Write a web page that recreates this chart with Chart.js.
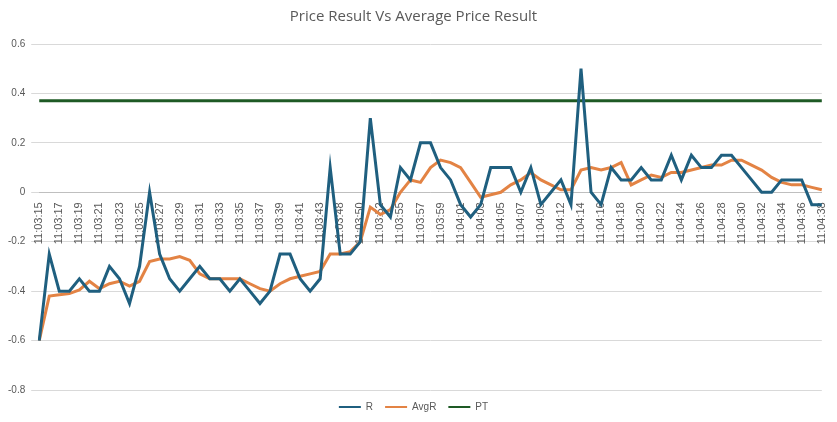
<!DOCTYPE html>
<html><head><meta charset="utf-8">
<script src="https://cdn.jsdelivr.net/npm/chart.js@4"></script>
<style>html,body{margin:0;padding:0;background:#fff}#w{width:837px;height:422px}</style>
</head><body><div id="w"><canvas id="c"></canvas></div>
<script>
const labels = ["11:03:15","11:03:16","11:03:17","11:03:18","11:03:19","11:03:20","11:03:21","11:03:22","11:03:23","11:03:24","11:03:25","11:03:26","11:03:27","11:03:28","11:03:29","11:03:30","11:03:31","11:03:32","11:03:33","11:03:34","11:03:35","11:03:36","11:03:37","11:03:38","11:03:39","11:03:40","11:03:41","11:03:42","11:03:43","11:03:46","11:03:48","11:03:49","11:03:50","11:03:51","11:03:52","11:03:54","11:03:55","11:03:56","11:03:57","11:03:58","11:03:59","11:04:00","11:04:01","11:04:02","11:04:03","11:04:04","11:04:05","11:04:06","11:04:07","11:04:08","11:04:09","11:04:11","11:04:12","11:04:13","11:04:14","11:04:15","11:04:16","11:04:17","11:04:18","11:04:19","11:04:20","11:04:21","11:04:22","11:04:23","11:04:24","11:04:25","11:04:26","11:04:27","11:04:28","11:04:29","11:04:30","11:04:31","11:04:32","11:04:33","11:04:34","11:04:35","11:04:36","11:04:37","11:04:38"];
const R = [-0.6,-0.25,-0.4,-0.4,-0.35,-0.4,-0.4,-0.3,-0.35,-0.45,-0.3,0.0,-0.25,-0.35,-0.4,-0.35,-0.3,-0.35,-0.35,-0.4,-0.35,-0.4,-0.45,-0.4,-0.25,-0.25,-0.35,-0.4,-0.35,0.1,-0.25,-0.25,-0.2,0.3,-0.05,-0.1,0.1,0.05,0.2,0.2,0.1,0.05,-0.05,-0.1,-0.05,0.1,0.1,0.1,0.0,0.1,-0.05,0.0,0.05,-0.05,0.5,0.0,-0.05,0.1,0.05,0.05,0.1,0.05,0.05,0.15,0.05,0.15,0.1,0.1,0.15,0.15,0.1,0.05,0.0,0.0,0.05,0.05,0.05,-0.05,-0.05];
const AvgR = [-0.6,-0.42,-0.415,-0.41,-0.395,-0.36,-0.39,-0.37,-0.36,-0.38,-0.36,-0.28,-0.27,-0.27,-0.26,-0.275,-0.33,-0.35,-0.35,-0.35,-0.35,-0.37,-0.39,-0.4,-0.37,-0.35,-0.34,-0.33,-0.32,-0.25,-0.25,-0.24,-0.2,-0.06,-0.09,-0.07,0.0,0.05,0.04,0.1,0.13,0.12,0.1,0.04,-0.02,-0.01,0.0,0.03,0.05,0.08,0.05,0.03,0.01,0.01,0.09,0.1,0.09,0.1,0.12,0.03,0.05,0.07,0.06,0.08,0.08,0.09,0.1,0.11,0.11,0.13,0.13,0.11,0.09,0.06,0.04,0.03,0.03,0.02,0.01];
const PTvalue = 0.37;
const PT = labels.map(() => PTvalue);

new Chart(document.getElementById('c'), {
  type: 'line',
  data: { labels, datasets: [
    {label:'R', data:R, borderColor:'#1f5f7f', backgroundColor:'#1f5f7f', borderWidth:3, pointRadius:0, tension:0},
    {label:'AvgR', data:AvgR, borderColor:'#e38344', backgroundColor:'#e38344', borderWidth:3, pointRadius:0, tension:0},
    {label:'PT', data:PT, borderColor:'#1e5a25', backgroundColor:'#1e5a25', borderWidth:3, pointRadius:0, tension:0}
  ]},
  options: {
    responsive:true, maintainAspectRatio:false, animation:false,
    layout:{padding:{left:2,right:12,top:6,bottom:0}},
    plugins:{
      title:{display:true, text:'Price Result Vs Average Price Result', color:'#595959', font:{family:'Open Sans', size:15, weight:'normal'}, padding:{top:2,bottom:18}},
      legend:{position:'bottom', labels:{boxWidth:22, boxHeight:2, color:'#595959', font:{family:'Liberation Sans', size:10}, padding:12,
        generateLabels(chart){return chart.data.datasets.map((d,i)=>({text:d.label, fillStyle:d.borderColor, strokeStyle:d.borderColor, lineWidth:0, datasetIndex:i, fontColor:'#595959'}));}}},
      tooltip:{enabled:false}
    },
    scales:{
      x:{position:{y:0}, grid:{display:false}, border:{color:'#bfbfbf'},
        ticks:{autoSkip:false, maxRotation:90, minRotation:90, color:'#595959', font:{family:'Liberation Sans', size:11}, padding:2,
          callback(v,i){return i%2===0 ? labels[i] : '';}}},
      y:{min:-0.8, max:0.6, grid:{color:'#d9d9d9'}, border:{display:false},
        ticks:{stepSize:0.2, color:'#595959', font:{family:'Liberation Sans', size:10}, padding:6,
          callback(v){const n=Math.round(v*10)/10; return n===0?'0':n.toFixed(1);}}}
    }
  }
});
</script></body></html>
